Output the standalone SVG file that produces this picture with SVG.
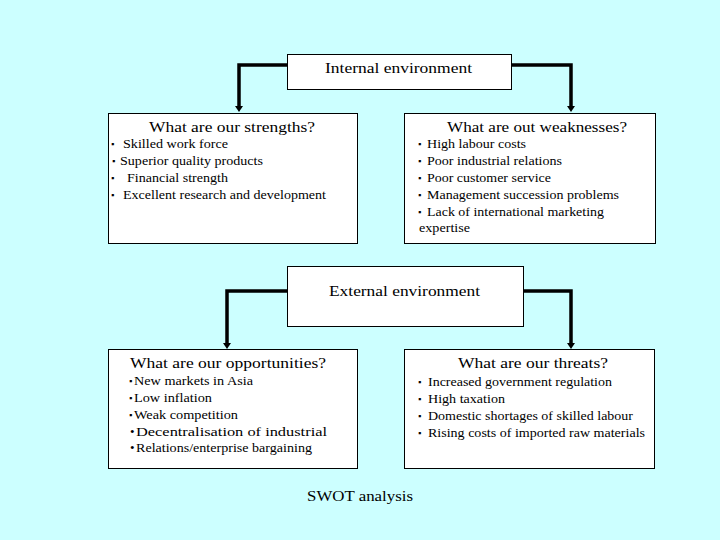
<svg xmlns="http://www.w3.org/2000/svg" width="720" height="540" viewBox="0 0 720 540">
<style>
text{font-family:"Liberation Serif","Times New Roman",serif;fill:#000}
.box{fill:#fff;stroke:#000;stroke-width:1}
.h{font-size:15px}
.i{font-size:13px}
.b{font-size:9px}
.c{fill:none;stroke:#000;stroke-width:3.5}
</style>
<defs>
<marker id="ah" viewBox="0 0 6 8" refX="0" refY="4" markerWidth="6" markerHeight="8" markerUnits="userSpaceOnUse" orient="auto">
<path d="M0,0 L6,4 L0,8 z" fill="#000"/>
</marker>
</defs>
<rect width="720" height="540" fill="#CCFFFF"/>
<g id="connectors">
<path class="c" d="M287,65 H239 V106" marker-end="url(#ah)"/>
<path class="c" d="M511,65 H571 V106" marker-end="url(#ah)"/>
<path class="c" d="M287,291 H227 V343" marker-end="url(#ah)"/>
<path class="c" d="M523,291 H571 V343" marker-end="url(#ah)"/>
</g>
<g id="internal">
<rect class="box" x="287.5" y="54.5" width="224" height="35"/>
<text class="h" x="325" y="73" textLength="147" lengthAdjust="spacingAndGlyphs">Internal environment</text>
</g>
<g id="strengths">
<rect class="box" x="108.5" y="113.5" width="249" height="130"/>
<text class="h" x="149" y="132" textLength="166" lengthAdjust="spacingAndGlyphs">What are our strengths?</text>
<text class="b" x="111" y="147">▪</text>
<text class="i" x="123" y="148" textLength="105" lengthAdjust="spacingAndGlyphs">Skilled work force</text>
<text class="b" x="112" y="164">▪</text>
<text class="i" x="120" y="165" textLength="143" lengthAdjust="spacingAndGlyphs">Superior quality products</text>
<text class="b" x="111" y="181">▪</text>
<text class="i" x="127" y="182" textLength="101" lengthAdjust="spacingAndGlyphs">Financial strength</text>
<text class="b" x="111" y="198">▪</text>
<text class="i" x="123" y="199" textLength="203" lengthAdjust="spacingAndGlyphs">Excellent research and development</text>
</g>
<g id="weaknesses">
<rect class="box" x="404.5" y="113.5" width="251" height="130"/>
<text class="h" x="447" y="132" textLength="180" lengthAdjust="spacingAndGlyphs">What are out weaknesses?</text>
<text class="b" x="418" y="147">▪</text>
<text class="i" x="427" y="148" textLength="99" lengthAdjust="spacingAndGlyphs">High labour costs</text>
<text class="b" x="418" y="164">▪</text>
<text class="i" x="427" y="165" textLength="135" lengthAdjust="spacingAndGlyphs">Poor industrial relations</text>
<text class="b" x="418" y="181">▪</text>
<text class="i" x="427" y="182" textLength="124" lengthAdjust="spacingAndGlyphs">Poor customer service</text>
<text class="b" x="418" y="198">▪</text>
<text class="i" x="427" y="199" textLength="192" lengthAdjust="spacingAndGlyphs">Management succession problems</text>
<text class="b" x="418" y="215">▪</text>
<text class="i" x="427" y="216" textLength="177" lengthAdjust="spacingAndGlyphs">Lack of international marketing</text>
<text class="i" x="419" y="232" textLength="51" lengthAdjust="spacingAndGlyphs">expertise</text>
</g>
<g id="external">
<rect class="box" x="287.5" y="266.5" width="236" height="60"/>
<text class="h" x="329" y="296" textLength="151" lengthAdjust="spacingAndGlyphs">External environment</text>
</g>
<g id="opportunities">
<rect class="box" x="108.5" y="349.5" width="249" height="119"/>
<text class="h" x="130" y="368" textLength="196" lengthAdjust="spacingAndGlyphs">What are our opportunities?</text>
<text class="b" x="129" y="384">▪</text>
<text class="i" x="134" y="385" textLength="119" lengthAdjust="spacingAndGlyphs">New markets in Asia</text>
<text class="b" x="129" y="401">▪</text>
<text class="i" x="134" y="402" textLength="78" lengthAdjust="spacingAndGlyphs">Low inflation</text>
<text class="b" x="129" y="418">▪</text>
<text class="i" x="134" y="419" textLength="104" lengthAdjust="spacingAndGlyphs">Weak competition</text>
<text class="i" x="130" y="436">•</text>
<text class="i" x="136" y="436" textLength="191" lengthAdjust="spacingAndGlyphs">Decentralisation of industrial</text>
<text class="i" x="130" y="452">•</text>
<text class="i" x="136" y="452" textLength="176" lengthAdjust="spacingAndGlyphs">Relations/enterprise bargaining</text>
</g>
<g id="threats">
<rect class="box" x="404.5" y="349.5" width="250" height="119"/>
<text class="h" x="458" y="368" textLength="150" lengthAdjust="spacingAndGlyphs">What are our threats?</text>
<text class="b" x="418" y="385">▪</text>
<text class="i" x="428" y="386" textLength="184" lengthAdjust="spacingAndGlyphs">Increased government regulation</text>
<text class="b" x="418" y="402">▪</text>
<text class="i" x="428" y="403" textLength="77" lengthAdjust="spacingAndGlyphs">High taxation</text>
<text class="b" x="418" y="419">▪</text>
<text class="i" x="428" y="420" textLength="205" lengthAdjust="spacingAndGlyphs">Domestic shortages of skilled labour</text>
<text class="b" x="418" y="436">▪</text>
<text class="i" x="428" y="437" textLength="217" lengthAdjust="spacingAndGlyphs">Rising costs of imported raw materials</text>
</g>
<g id="title">
<text class="h" x="307" y="501" textLength="106" lengthAdjust="spacingAndGlyphs">SWOT analysis</text>
</g>
</svg>
